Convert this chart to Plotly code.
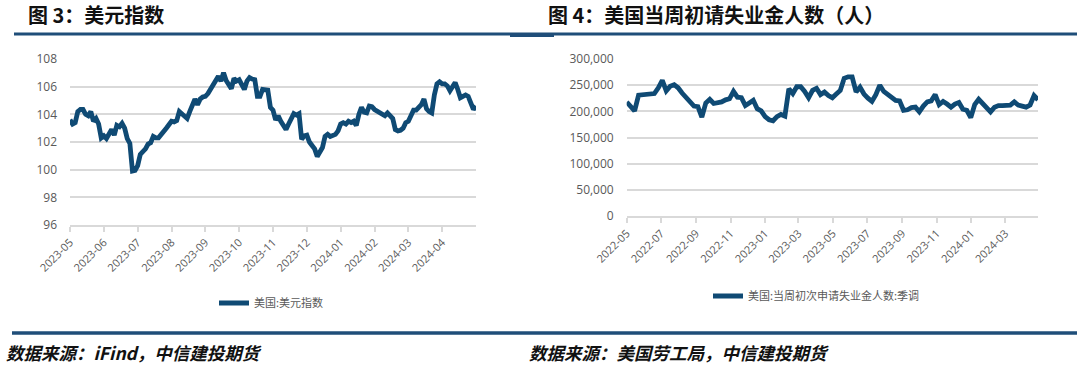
import plotly.graph_objects as go
import pandas as pd

# ---------------- data ----------------
dxy_values = [
    103.6, 103.3, 103.4, 104.2, 104.35, 104.35, 104.0, 103.9, 104.2, 103.5,
    103.7, 103.3, 102.3, 102.45, 102.25, 102.6, 102.9, 102.5, 103.2, 103.1,
    103.35, 103.0, 102.25, 101.9, 99.9, 99.95, 100.3, 101.1, 101.3, 101.5,
    101.85, 101.95, 102.4, 102.3, 102.3, 102.5, 102.8, 103.0, 103.25, 103.5,
    103.45, 103.55, 104.2, 104.0, 103.8, 103.7, 104.2, 104.6, 105.1, 104.7,
    105.1, 105.25, 105.3, 105.5, 105.85, 106.1, 106.55, 106.75, 106.4, 107.0,
    106.45, 106.15, 105.85, 106.6, 106.4, 106.5, 106.2, 105.8, 106.4, 106.65,
    106.55, 106.5, 105.3, 105.3, 105.8, 105.8, 105.75, 104.5, 104.3, 103.6,
    103.9, 103.5, 103.25, 102.9, 103.3, 103.6, 104.05, 103.95, 104.05, 102.2,
    102.45, 102.5, 102.0, 101.75, 101.5, 100.95, 101.33, 101.6, 102.4, 102.55,
    102.4, 102.5, 102.55, 102.8, 103.3, 103.4, 103.3, 103.5, 103.4, 103.5,
    103.2, 104.0, 104.5, 104.15, 104.1, 104.6, 104.55, 104.35, 104.25, 104.1,
    104.0, 103.9, 104.1, 103.9, 103.7, 102.9, 102.8, 102.85, 103.0, 103.4,
    103.5, 103.9, 104.3, 104.3, 104.5, 104.7, 105.1, 104.4, 104.2, 104.1,
    105.4, 106.2, 106.35, 106.2, 106.2, 106.05, 105.7, 106.0, 106.3, 105.8,
    105.2, 105.3, 105.4, 105.3, 104.9, 104.35, 104.6,
]
dxy_tick_labels = [
    "2023-05", "2023-06", "2023-07", "2023-08", "2023-09", "2023-10",
    "2023-11", "2023-12", "2024-01", "2024-02", "2024-03", "2024-04",
]

claims_start = "2022-05-14"
claims_values = [
    217800, 210000, 201000, 231000, 232000, 232000, 232000, 234000, 245000, 259000,
    239000, 248000, 251000, 245000, 235000, 227000, 218000, 210000, 209000, 189000,
    216000, 223000, 215000, 216000, 218000, 222000, 224000, 238000, 227000, 226000,
    211000, 216000, 221000, 205000, 201000, 190000, 184000, 182000, 190000, 194000,
    191000, 243000, 234000, 247000, 247000, 238000, 226000, 240000, 244000, 232000,
    237000, 230000, 226000, 233000, 240000, 263000, 266000, 266000, 237000, 246000,
    233000, 225000, 219000, 232000, 250000, 238000, 233000, 227000, 221000, 220000,
    202000, 203000, 207000, 208000, 199000, 210000, 218000, 220000, 232000, 213000,
    219000, 214000, 208000, 214000, 217000, 204000, 202000, 188000, 213000, 223000,
    216000, 208000, 199000, 208000, 211000, 211000, 211000, 212000, 218000, 212000,
    210000, 208000, 212000, 230000, 222000,
]

dxy_name = "美国:美元指数"
claims_name = "美国:当周初次申请失业金人数:季调"

# ---------------- figure ----------------
W, H = 1080, 365
LINE = "#0f4a74"
GRID = "#d9d9d9"
TICKFONT = dict(family="Open Sans, Noto Sans CJK SC, sans-serif", size=11, color="#595959")

dxy_x = list(range(len(dxy_values)))
step = (len(dxy_values) - 1) // len(dxy_tick_labels)
dxy_tickvals = [i * step for i in range(len(dxy_tick_labels))]

claims_dates = pd.date_range(claims_start, periods=len(claims_values), freq="7D")

fig = go.Figure()
fig.add_trace(go.Scatter(
    x=dxy_x, y=dxy_values, mode="lines", name=dxy_name, showlegend=True,
    line=dict(color=LINE, width=4.8), xaxis="x", yaxis="y", legend="legend",
))
fig.add_trace(go.Scatter(
    x=claims_dates, y=claims_values, mode="lines", name=claims_name, showlegend=True,
    line=dict(color=LINE, width=4.8), xaxis="x2", yaxis="y2", legend="legend2",
))

def px_x(v):
    return v / W

def px_y(v):
    return 1 - v / H

axis_common_x = dict(
    showgrid=False, showline=True, linecolor=GRID, linewidth=1.5,
    ticks="outside", ticklen=5, tickcolor=GRID, tickwidth=1.5,
    tickangle=-45, tickfont=TICKFONT, zeroline=False, automargin=False,
)
axis_common_y = dict(
    showgrid=True, gridcolor=GRID, gridwidth=1.5, zeroline=False,
    showline=False, ticks="", tickfont=dict(TICKFONT, size=12),
    ticklabelstandoff=12, automargin=False,
)

legend_font = dict(family="Noto Sans CJK SC, sans-serif", size=11, color="#595959")

fig.update_layout(
    template="none",
    width=W, height=H,
    showlegend=True,
    margin=dict(l=0, r=0, t=0, b=0, pad=0, autoexpand=False),
    paper_bgcolor="white", plot_bgcolor="white",
    font=dict(family="Noto Sans CJK SC, sans-serif"),
    xaxis=dict(
        axis_common_x, domain=[px_x(70), px_x(476)], anchor="y",
        range=[0, len(dxy_values) - 1], tickmode="array",
        tickvals=dxy_tickvals, ticktext=dxy_tick_labels,
    ),
    yaxis=dict(
        axis_common_y, domain=[px_y(225), px_y(59)], anchor="x",
        range=[96, 108], dtick=2,
    ),
    xaxis2=dict(
        axis_common_x, domain=[px_x(626.7), px_x(1038)], anchor="y2",
        type="date", range=[claims_dates[0], claims_dates[-1]],
        tick0=claims_dates[0], dtick="M2", tickformat="%Y-%m",
    ),
    yaxis2=dict(
        axis_common_y, domain=[px_y(216), px_y(59)], anchor="x2",
        range=[0, 300000], dtick=50000, tickformat=",d",
    ),
    legend=dict(
        x=px_x(214), y=px_y(303), xanchor="left", yanchor="middle",
        font=legend_font, bgcolor="rgba(0,0,0,0)", visible=True,
    ),
    legend2=dict(
        x=px_x(708), y=px_y(296), xanchor="left", yanchor="middle",
        font=legend_font, bgcolor="rgba(0,0,0,0)", visible=True,
    ),
)

# titles
title_font = dict(family="Noto Sans CJK SC, sans-serif", size=20, color="#111111")
fig.add_annotation(text="<b>图 3：美元指数</b>", x=px_x(26), y=px_y(15),
                   xref="paper", yref="paper", xanchor="left", yanchor="middle",
                   showarrow=False, font=title_font)
fig.add_annotation(text="<b>图 4：美国当周初请失业金人数（人）</b>", x=px_x(546), y=px_y(15),
                   xref="paper", yref="paper", xanchor="left", yanchor="middle",
                   showarrow=False, font=title_font)

# footers
foot_font = dict(family="Noto Sans CJK SC, sans-serif", size=17.5, color="#111111")
fig.add_annotation(text="<b><i>数据来源：iFind，中信建投期货</i></b>", x=px_x(4), y=px_y(352),
                   xref="paper", yref="paper", xanchor="left", yanchor="middle",
                   showarrow=False, font=foot_font)
fig.add_annotation(text="<b><i>数据来源：美国劳工局，中信建投期货</i></b>", x=px_x(527), y=px_y(352),
                   xref="paper", yref="paper", xanchor="left", yanchor="middle",
                   showarrow=False, font=foot_font)

# rules
RULE = "#1f4e79"
fig.add_shape(type="line", xref="paper", yref="paper",
              x0=px_x(14), x1=px_x(1077), y0=px_y(34), y1=px_y(34),
              line=dict(color=RULE, width=3))
fig.add_shape(type="line", xref="paper", yref="paper",
              x0=px_x(510), x1=px_x(554), y0=px_y(35.5), y1=px_y(35.5),
              line=dict(color=RULE, width=3))
fig.add_shape(type="line", xref="paper", yref="paper",
              x0=px_x(12), x1=px_x(1077), y0=px_y(333), y1=px_y(333),
              line=dict(color=RULE, width=3.5))

fig.write_html(
    "out.html",
    config={"displayModeBar": False},
    post_script="document.body.style.margin='0';document.body.style.overflow='hidden';",
)
